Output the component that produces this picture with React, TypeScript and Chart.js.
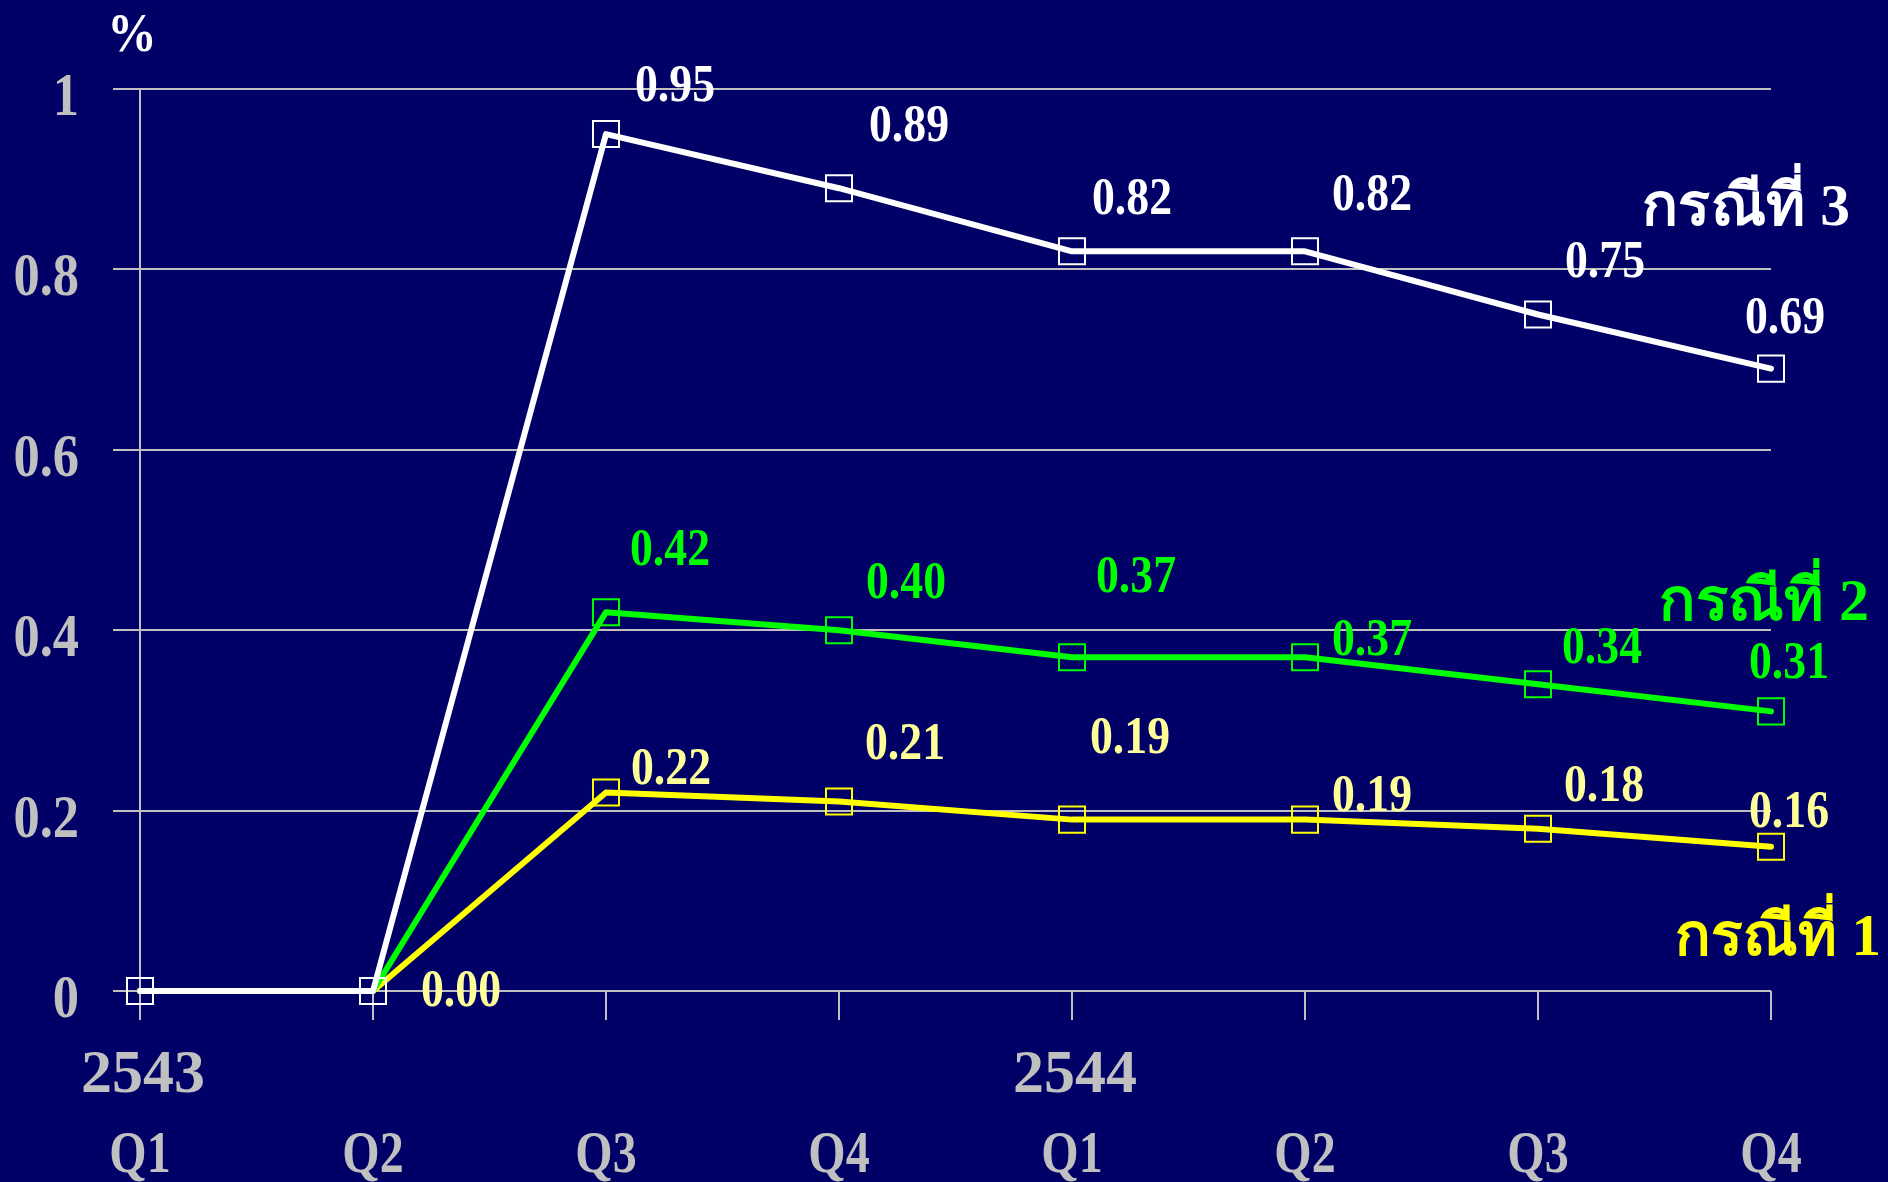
import React, { useEffect, useRef } from 'react';
import { Chart, registerables } from 'chart.js';

Chart.register(...registerables);

// ---- data ----
const years = ['2543', '', '', '', '2544', '', '', ''];
const quarters = ['Q1', 'Q2', 'Q3', 'Q4', 'Q1', 'Q2', 'Q3', 'Q4'];
const case3 = [0, 0, 0.95, 0.89, 0.82, 0.82, 0.75, 0.69];
const case2 = [0, 0, 0.42, 0.4, 0.37, 0.37, 0.34, 0.31];
const case1 = [0, 0, 0.22, 0.21, 0.19, 0.19, 0.18, 0.16];
const seriesNames = ['กรณีที่ 3', 'กรณีที่ 2', 'กรณีที่ 1'];
const yTicks = [0, 0.2, 0.4, 0.6, 0.8, 1];
const yTickLabels = ['0', '0.2', '0.4', '0.6', '0.8', '1'];
const yUnit = '%';

// ---- layout / style (not data) ----
const W = 1888;
const H = 1182;
const BG = '#000066';
const GRID = '#C0C0C0';
const FONT = "'Liberation Serif', 'Times New Roman', serif";
const lineColors = ['#FFFFFF', '#00FF00', '#FFFF00'];
const labelColors = ['#FFFFFF', '#00FF00', '#FFFF99'];
const nameColors = ['#FFFFFF', '#00FF00', '#FFFF00'];
// value-label offsets relative to each point (null = no label)
const offsets3: (number[] | null)[] = [null, null, [69, -49], [70, -63], [60, -53], [67, -57], [67, -53], [14, -51]];
const offsets2: (number[] | null)[] = [null, null, [64, -63], [67, -48], [64, -81], [67, -18], [64, -37], [18, -49]];
const offsets1: (number[] | null)[] = [null, [88, 0], [65, -24], [66, -58], [58, -82], [67, -24], [66, -43], [18, -35]];
const labelOffsets = [offsets3, offsets2, offsets1];
// series name anchors (right edge x, baseline y, target width) on canvas
const namePos = [
  [1850, 225, 208],
  [1869, 620, 210],
  [1881, 955, 206],
];

function condensed(ctx: any, text: string, x: number, y: number, sx: number, align: string) {
  ctx.save();
  ctx.translate(x, y);
  ctx.scale(sx, 1);
  ctx.textAlign = align;
  ctx.fillText(text, 0, 0);
  ctx.restore();
}

const overlayPlugin = {
  id: 'overlay',
  beforeDraw(chart: any) {
    const ctx = chart.ctx;
    ctx.save();
    ctx.fillStyle = BG;
    ctx.fillRect(0, 0, chart.width, chart.height);
    ctx.restore();
  },
  afterDraw(chart: any) {
    const ctx = chart.ctx;
    const xs = chart.scales.x;
    const ys = chart.scales.y;
    ctx.save();
    ctx.textBaseline = 'alphabetic';
    // y tick labels
    ctx.fillStyle = GRID;
    ctx.font = `bold 61px ${FONT}`;
    yTicks.forEach((v, i) => {
      condensed(ctx, yTickLabels[i], 79, ys.getPixelForValue(v) + 26, 0.86, 'right');
    });
    // x labels
    quarters.forEach((q, i) => {
      const px = xs.getPixelForValue(i);
      ctx.font = `bold 62px ${FONT}`;
      if (years[i]) condensed(ctx, years[i], px + 3, 1092, 1.0, 'center');
      ctx.font = `bold 60px ${FONT}`;
      condensed(ctx, q, px, 1172, 0.8, 'center');
    });
    // value labels
    ctx.font = `bold 52px ${FONT}`;
    ctx.textBaseline = 'middle';
    chart.data.datasets.forEach((ds: any, di: number) => {
      const meta = chart.getDatasetMeta(di);
      ds.data.forEach((v: number, i: number) => {
        const off = labelOffsets[di][i];
        if (!off) return;
        const el = meta.data[i];
        ctx.fillStyle = labelColors[di];
        condensed(ctx, v.toFixed(2), el.x + off[0], el.y + off[1] + 2, 0.88, 'center');
      });
    });
    // series names
    ctx.textBaseline = 'alphabetic';
    ctx.font = `bold 100px ${FONT}`;
    const a = ctx.measureText('ก').actualBoundingBoxAscent || 55;
    const size = Math.round((100 * 35) / a);
    ctx.font = `bold ${size}px ${FONT}`;
    seriesNames.forEach((n, i) => {
      ctx.fillStyle = nameColors[i];
      const w = ctx.measureText(n).width;
      const sx = Math.min(1.2, namePos[i][2] / w);
      condensed(ctx, n, namePos[i][0], namePos[i][1], sx, 'right');
    });
    // unit
    ctx.fillStyle = '#FFFFFF';
    ctx.font = `bold 55px ${FONT}`;
    condensed(ctx, yUnit, 132, 51, 0.9, 'center');
    ctx.restore();
  },
};

export default function App() {
  const ref = useRef<HTMLCanvasElement>(null);
  useEffect(() => {
    document.body.style.margin = '0';
    document.body.style.background = BG;
    const labels = quarters.map((q, i) => [years[i], q]);
    const mk = (data: number[], i: number) => ({
      label: seriesNames[i],
      data,
      borderColor: lineColors[i],
      borderWidth: 6,
      borderCapStyle: 'round',
      borderJoinStyle: 'round',
      tension: 0,
      pointStyle: 'rect',
      pointRadius: 18.4,
      pointBorderWidth: 2,
      pointBorderColor: lineColors[i],
      pointBackgroundColor: 'transparent',
      clip: false,
    });
    const chart = new Chart(ref.current!, {
      type: 'line',
      data: {
        labels,
        datasets: [mk(case3, 0), mk(case2, 1), mk(case1, 2)],
      },
      options: {
        responsive: false,
        animation: false,
        devicePixelRatio: 1,
        layout: { padding: { top: 89, right: 117, left: 0, bottom: 0 } },
        plugins: { legend: { display: false }, tooltip: { enabled: false } },
        scales: {
          x: {
            type: 'category',
            offset: false,
            grid: { drawOnChartArea: false, drawTicks: true, tickLength: 29, color: GRID, lineWidth: 2 },
            border: { display: false },
            ticks: { display: false, autoSkip: false, maxRotation: 0 },
            afterFit: (s: any) => {
              s.height = 191;
            },
          },
          y: {
            min: 0,
            max: 1,
            afterBuildTicks: (s: any) => {
              s.ticks = yTicks.map((v) => ({ value: v }));
            },
            ticks: { display: false },
            grid: { color: GRID, lineWidth: 2, tickLength: 27 },
            border: { display: true, color: GRID, width: 2 },
            afterFit: (s: any) => {
              s.width = 140;
            },
          },
        },
      } as any,
      plugins: [overlayPlugin],
    } as any);
    return () => chart.destroy();
  }, []);
  return (
    <div style={{ position: 'fixed', left: 0, top: 0, width: W, height: H, background: BG }}>
      <canvas ref={ref} width={W} height={H} style={{ display: 'block', width: W, height: H }} />
    </div>
  );
}
